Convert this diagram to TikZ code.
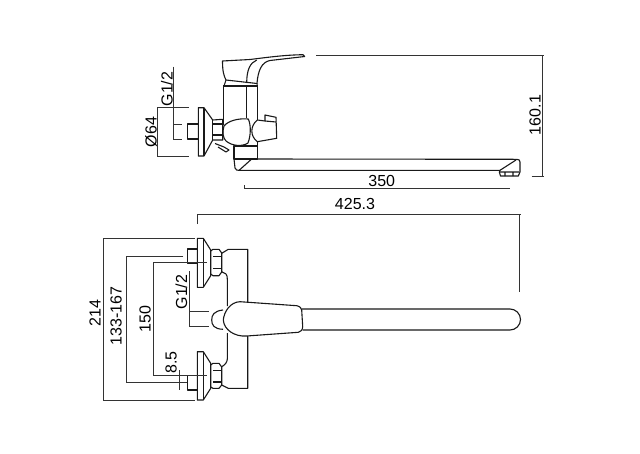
\documentclass[tikz,border=0pt]{standalone}
\usepackage{fontspec}
\setmainfont{Liberation Sans}
\tikzset{
  part/.style={draw=black!90,line width=1.1pt,line join=round},
  dimline/.style={draw=black!80,line width=0.9pt},
  dimlabel/.style={inner sep=0pt,text=black,font=\fontsize{16}{16}\selectfont},
}
\begin{document}
\begin{tikzpicture}[x=1pt,y=-1pt]
\useasboundingbox (0,0) rectangle (640,453);
\fill[white] (0,0) rectangle (640,453);
% side view: lever
\draw[part] (222.5,61) -- (250,59.5) .. controls (270,57) and (285,55) .. (303,54.7) -- (304.7,56.5) -- (270,60.5)
  .. controls (262,62) and (258,70) .. (257,83.5) -- (226,80) .. controls (224,76) and (222.5,72) .. (222.5,61) -- cycle;
\draw[part] (256.7,60) .. controls (250,63) and (246.7,70) .. (246.7,83);
\draw[part] (226,80) -- (224,86) (257,83.5) -- (257.3,86);
% side view: body
\draw[part] (223.3,86) -- (257.3,86) -- (257.3,120) (257.3,141.7) -- (257.3,146) -- (234,146);
\draw[part] (223.3,86) -- (223.3,125) (246.7,86) -- (246.7,118);
\draw[part] (248.3,119) .. controls (238,118) and (228,121) .. (224,126) .. controls (222,132) and (223,138) .. (226,141)
  .. controls (232,146) and (242,147) .. (248,143) .. controls (251,135) and (251,125) .. (248.3,119) -- cycle;
\draw[part] (215,143.5) -- (224,147) -- (229,150) -- (226,152) -- (218,147);
% side view: right knob
\draw[part] (257.3,120) .. controls (250,126) and (250,136) .. (257.3,141.7) -- (276.7,138.3) -- (276,117.3) -- (265,115) -- (265,121) -- (257.3,120);
\draw[part] (265,121) -- (276,122);
% side view: wall plate
\draw[part] (198.3,107.7) -- (204,107.7) -- (212.7,120) -- (222.7,119.3) -- (222.7,140) -- (212.7,140) -- (204,156) -- (198.3,156) -- cycle;
\draw[part] (204,107.7) -- (204,156) (212.7,120) -- (212.7,140) (212.7,124) -- (222.7,124) (212.7,135) -- (222.7,135);
\draw[part] (187.7,124) rectangle (198.3,139);
% side view: spout
\draw[part] (234,146) rectangle (257.3,159);
\draw[part] (234,159) -- (235,168) .. controls (236,170) and (237,170.5) .. (239,170.4) -- (251.7,159);
\draw[part] (251.7,159) -- (516.7,159.3) .. controls (519,159.5) and (520,160) .. (520,162) -- (520,172) -- (518.3,176) -- (500.5,176) -- (499.3,172) -- (500,170.3) -- (239,170.4);
\draw[part] (500,170.3) -- (516,160) (500,172) -- (519,172) (505,172) -- (505,176) (513,172) -- (513,176);
% side view: dimensions
\draw[dimline] (316,55) -- (544,55) (531.7,176) -- (544,176) (542.7,55) -- (542.7,176);
\draw[dimline] (244.3,185) -- (244.3,189) (244.3,188.3) -- (510,188.3);
\draw[dimline] (173.3,66.7) -- (173.3,139) (173.3,124) -- (182,124) (173.3,139) -- (182,139);
\draw[dimline] (157.3,107.7) -- (189,107.7) (157.3,156) -- (189,156) (157.3,107.7) -- (157.3,156);
\node[dimlabel,rotate=90] (lblheight) at (535,115) {160.1};
\node[dimlabel] (lblreach) at (381.7,181) {350};
\node[dimlabel,rotate=90] (lblthreada) at (167,89) {G1/2};
\node[dimlabel,rotate=90] (lbldiam) at (151,132) {Ø64};
% front view: overall length
\draw[dimline] (197.5,224) -- (197.5,214) -- (521,214) (519,214) -- (519,292);
\node[dimlabel] (lbllength) at (355,204) {425.3};
% front view: upper connection
\draw[part] (197.3,238.3) -- (203.3,238.3) -- (210.7,250) -- (210.7,275.7) -- (203.3,287.3) -- (197.3,287.3) -- cycle;
\draw[part] (203.3,238.3) -- (203.3,287.3);
\draw[part] (210.7,251) -- (213,249.3) -- (219,249.3) -- (221.7,253) -- (221.7,272) -- (219,275.7) -- (213,275.7) -- (210.7,274);
\draw[part] (213,256.7) -- (221.7,256.7) (213,268.3) -- (221.7,268.3);
\draw[part] (187.3,249) rectangle (197.3,263.3);
% front view: lower connection
\draw[part] (197.3,351.7) -- (203.3,351.7) -- (210.7,363.3) -- (210.7,388.3) -- (203.3,400) -- (197.3,400) -- cycle;
\draw[part] (203.3,351.7) -- (203.3,400);
\draw[part] (210.7,365) -- (213,363.3) -- (219,363.3) -- (221.7,367) -- (221.7,385) -- (219,388.3) -- (213,388.3) -- (210.7,387);
\draw[part] (213,370.7) -- (221.7,370.7) (213,382) -- (221.7,382);
\draw[part] (187.3,375.7) rectangle (197.3,390);
% front view: body
\draw[part] (221.7,253.3) -- (228.3,249.3) -- (247.7,249.3) -- (247.7,302);
\draw[part] (247.7,336) -- (247.7,388.3) -- (228.3,388.3) -- (221.7,385);
\draw[part] (221.7,271.7) -- (226,274) .. controls (227,275) and (227.3,277) .. (227.3,279) -- (227.3,306);
\draw[part] (227.3,333) -- (227.3,359) .. controls (227.3,362) and (225,365) .. (221.7,366.7);
% front view: spout and lever
\draw[part] (301.7,309) -- (510,309) arc[start angle=-90,end angle=90,radius=10.5] -- (302.7,330);
\draw[part] (223,310) .. controls (214,311) and (211.7,315) .. (211.7,320) .. controls (211.7,325) and (214,329) .. (223,329.3);
\draw[part] (223.3,320) .. controls (224,312) and (230,302) .. (240,301.7) -- (296.7,305.7)
  .. controls (300,306.5) and (301.5,308) .. (301.7,310) -- (302.7,326.7) .. controls (302.5,330) and (301,331.8) .. (298.3,332.3)
  -- (246.7,336) .. controls (235,337) and (224,330) .. (223.3,320) -- cycle;
% front view: dimensions
\draw[dimline] (195,238.3) -- (103.3,238.3) -- (103.3,400) -- (195,400);
\draw[dimline] (183.3,256) -- (126,256) -- (126,382.3) -- (186.7,382.3);
\draw[dimline] (206.7,262.7) -- (153.3,262.7) -- (153.3,375.7) -- (206.7,375.7);
\draw[dimline] (179,370) -- (179,390);
\draw[dimline] (189,271) -- (189,326.7) (189,311.7) -- (209.3,311.7) (189,326.7) -- (209.3,326.7);
\node[dimlabel,rotate=90] (lbloverall) at (95,313) {214};
\node[dimlabel,rotate=90] (lblspacing) at (116,316) {133-167};
\node[dimlabel,rotate=90] (lblcentres) at (145,319) {150};
\node[dimlabel,rotate=90] (lblstub) at (171,362.5) {8.5};
\node[dimlabel,rotate=90] (lblthreadb) at (181.5,292) {G1/2};
\end{tikzpicture}
\end{document}
